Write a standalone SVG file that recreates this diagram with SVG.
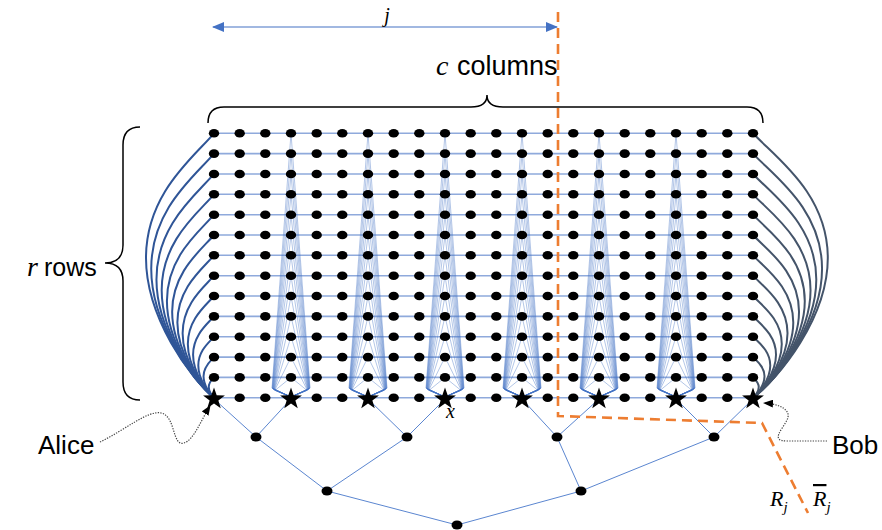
<svg xmlns="http://www.w3.org/2000/svg" xmlns:xlink="http://www.w3.org/1999/xlink" width="882" height="530" viewBox="0 0 882 530">
<style>
.lbl{font-family:"Liberation Sans",Arial,sans-serif;fill:#000}
.math{font-family:"Liberation Serif","DejaVu Serif",serif;font-style:italic;fill:#000}
.hl{stroke:#8FAADC;stroke-width:1.6;fill:none}
.fan{stroke:#4472C4;stroke-width:0.45;fill:none;stroke-opacity:0.9}
.tree{stroke:#5B86D0;stroke-width:1;fill:none}
.lcur{stroke:#2F5597;fill:none}
.rcur{stroke:#44546A;fill:none}
.brace{stroke:#000;stroke-width:1.5;fill:none}
.dotted{stroke:#444;stroke-width:1.2;stroke-dasharray:1.3 1.3;fill:none}
.cut{stroke:#ED7D31;stroke-width:2.6;stroke-dasharray:10 6;fill:none}
</style>
<defs>
<ellipse id="d" rx="5.2" ry="4.3" fill="#000"/>
<ellipse id="t" rx="5.5" ry="4.5" fill="#000"/>
<path id="st" d="M0 -11.5L2.7 -3.73L10.94 -3.55L4.37 1.43L6.76 9.3L0 4.6L-6.76 9.3L-4.37 1.43L-10.94 -3.55L-2.7 -3.73Z" fill="#000"/>
<path id="cv" d="M0 -264.4C-20 -240.7 -68 -204.7 -68 -139.7C-68 -80 -24 -20 0 0" stroke-width="2" vector-effect="non-scaling-stroke"/>
<path id="fan" d="M0 133.3L-19 388L0 397M0 133.3L19 388L0 397M0 153.6L-18.75 388.2L0 397M0 153.6L18.75 388.2L0 397M0 174L-18.5 388.4L0 397M0 174L18.5 388.4L0 397M0 194.3L-18.25 388.6L0 397M0 194.3L18.25 388.6L0 397M0 214.7L-18 388.8L0 397M0 214.7L18 388.8L0 397M0 235L-17.75 389L0 397M0 235L17.75 389L0 397M0 255.3L-17.5 389.2L0 397M0 255.3L17.5 389.2L0 397M0 275.7L-17.25 389.4L0 397M0 275.7L17.25 389.4L0 397M0 296L-17 389.6L0 397M0 296L17 389.6L0 397M0 316.4L-16.75 389.8L0 397M0 316.4L16.75 389.8L0 397M0 336.7L-16.5 390L0 397M0 336.7L16.5 390L0 397M0 357.1L-16.25 390.2L0 397M0 357.1L16.25 390.2L0 397M0 377.4L-16 390.4L0 397M0 377.4L16 390.4L0 397"/>
<marker id="ab" viewBox="0 0 12 10" refX="11" refY="5" markerWidth="12" markerHeight="10" markerUnits="userSpaceOnUse" orient="auto-start-reverse"><path d="M0 0L12 5L0 10z" fill="#4472C4"/></marker>
<marker id="ak" viewBox="0 0 10 8" refX="9" refY="4" markerWidth="10" markerHeight="8" markerUnits="userSpaceOnUse" orient="auto"><path d="M0 0L10 4L0 8z" fill="#000"/></marker>
</defs>

<!-- labels and braces -->
<g id="jarrow">
<line x1="213" y1="27" x2="557" y2="27" stroke="#4472C4" stroke-width="1.2" marker-start="url(#ab)" marker-end="url(#ab)"/>
<text class="math" x="387" y="22" font-size="20" text-anchor="middle">j</text>
</g>
<g id="colbrace">
<path class="brace" d="M208 123Q208 107 224 107L471 107Q487 107 487 95Q487 107 503 107L747 107Q763 107 763 123"/>
<text x="436" y="75"><tspan class="math" font-size="28">c</tspan><tspan class="lbl" x="457" font-size="27">columns</tspan></text>
</g>
<g id="rowbrace">
<path class="brace" d="M140 127Q123 127 123 145L123 245Q123 263 105 263Q123 263 123 281L123 382Q123 400 140 400"/>
<text x="27" y="276"><tspan class="math" font-size="28">r</tspan><tspan class="lbl" x="44" font-size="25">rows</tspan></text>
</g>

<!-- connectors -->
<g id="connectors">
<path class="hl" d="M214 133.3H753M214 153.6H753M214 174H753M214 194.3H753M214 214.7H753M214 235H753M214 255.3H753M214 275.7H753M214 296H753M214 316.4H753M214 336.7H753M214 357.1H753M214 377.4H753M214 397.7H753"/>
<g class="fan">
<use href="#fan" x="291"/>
<use href="#fan" x="368"/>
<use href="#fan" x="445"/>
<use href="#fan" x="522"/>
<use href="#fan" x="599"/>
<use href="#fan" x="676"/>
</g>
<g class="lcur">
<use href="#cv" transform="translate(214 397.7) scale(1)"/>
<use href="#cv" transform="translate(214 397.7) scale(0.9231)"/>
<use href="#cv" transform="translate(214 397.7) scale(0.8462)"/>
<use href="#cv" transform="translate(214 397.7) scale(0.7692)"/>
<use href="#cv" transform="translate(214 397.7) scale(0.6923)"/>
<use href="#cv" transform="translate(214 397.7) scale(0.6154)"/>
<use href="#cv" transform="translate(214 397.7) scale(0.5385)"/>
<use href="#cv" transform="translate(214 397.7) scale(0.4615)"/>
<use href="#cv" transform="translate(214 397.7) scale(0.3846)"/>
<use href="#cv" transform="translate(214 397.7) scale(0.3077)"/>
<use href="#cv" transform="translate(214 397.7) scale(0.2308)"/>
<use href="#cv" transform="translate(214 397.7) scale(0.1538)"/>
<use href="#cv" transform="translate(214 397.7) scale(0.0769)"/>
</g>
<g class="rcur">
<use href="#cv" transform="translate(753 397.7) scale(-1.1 1)"/>
<use href="#cv" transform="translate(753 397.7) scale(-1.0154 0.9231)"/>
<use href="#cv" transform="translate(753 397.7) scale(-0.9308 0.8462)"/>
<use href="#cv" transform="translate(753 397.7) scale(-0.8462 0.7692)"/>
<use href="#cv" transform="translate(753 397.7) scale(-0.7615 0.6923)"/>
<use href="#cv" transform="translate(753 397.7) scale(-0.6769 0.6154)"/>
<use href="#cv" transform="translate(753 397.7) scale(-0.5923 0.5385)"/>
<use href="#cv" transform="translate(753 397.7) scale(-0.5077 0.4615)"/>
<use href="#cv" transform="translate(753 397.7) scale(-0.4231 0.3846)"/>
<use href="#cv" transform="translate(753 397.7) scale(-0.3385 0.3077)"/>
<use href="#cv" transform="translate(753 397.7) scale(-0.2538 0.2308)"/>
<use href="#cv" transform="translate(753 397.7) scale(-0.1692 0.1538)"/>
<use href="#cv" transform="translate(753 397.7) scale(-0.0846 0.0769)"/>
</g>
<path class="tree" d="M214 399L256 437L291 399M368 399L407 437L445 399M522 399L557 437L599 399M676 399L714 437L753 399M256 437L327 491L407 437M557 437L581 491L714 437M327 491L457 525L581 491"/>
<path class="dotted" d="M100 442C125 430 148 410 161 413C176 416 172 447 184 443C194 440 201 420 210 406" marker-end="url(#ak)"/>
<path class="dotted" d="M827 441L787 441C770 441 782 430 787 420C792 410 780 404 764 403" marker-end="url(#ak)"/>
</g>

<!-- grid nodes -->
<g id="grid">
<g id="row0" transform="translate(0 133.3)"><use id="n0_0" href="#d" x="214"/><use id="n0_1" href="#d" x="239.7"/><use id="n0_2" href="#d" x="265.3"/><use id="n0_3" href="#d" x="291"/><use id="n0_4" href="#d" x="316.7"/><use id="n0_5" href="#d" x="342.3"/><use id="n0_6" href="#d" x="368"/><use id="n0_7" href="#d" x="393.7"/><use id="n0_8" href="#d" x="419.3"/><use id="n0_9" href="#d" x="445"/><use id="n0_10" href="#d" x="470.7"/><use id="n0_11" href="#d" x="496.3"/><use id="n0_12" href="#d" x="522"/><use id="n0_13" href="#d" x="547.7"/><use id="n0_14" href="#d" x="573.3"/><use id="n0_15" href="#d" x="599"/><use id="n0_16" href="#d" x="624.7"/><use id="n0_17" href="#d" x="650.3"/><use id="n0_18" href="#d" x="676"/><use id="n0_19" href="#d" x="701.7"/><use id="n0_20" href="#d" x="727.3"/><use id="n0_21" href="#d" x="753"/></g>
<g id="row1" transform="translate(0 153.6)"><use id="n1_0" href="#d" x="214"/><use id="n1_1" href="#d" x="239.7"/><use id="n1_2" href="#d" x="265.3"/><use id="n1_3" href="#d" x="291"/><use id="n1_4" href="#d" x="316.7"/><use id="n1_5" href="#d" x="342.3"/><use id="n1_6" href="#d" x="368"/><use id="n1_7" href="#d" x="393.7"/><use id="n1_8" href="#d" x="419.3"/><use id="n1_9" href="#d" x="445"/><use id="n1_10" href="#d" x="470.7"/><use id="n1_11" href="#d" x="496.3"/><use id="n1_12" href="#d" x="522"/><use id="n1_13" href="#d" x="547.7"/><use id="n1_14" href="#d" x="573.3"/><use id="n1_15" href="#d" x="599"/><use id="n1_16" href="#d" x="624.7"/><use id="n1_17" href="#d" x="650.3"/><use id="n1_18" href="#d" x="676"/><use id="n1_19" href="#d" x="701.7"/><use id="n1_20" href="#d" x="727.3"/><use id="n1_21" href="#d" x="753"/></g>
<g id="row2" transform="translate(0 174)"><use id="n2_0" href="#d" x="214"/><use id="n2_1" href="#d" x="239.7"/><use id="n2_2" href="#d" x="265.3"/><use id="n2_3" href="#d" x="291"/><use id="n2_4" href="#d" x="316.7"/><use id="n2_5" href="#d" x="342.3"/><use id="n2_6" href="#d" x="368"/><use id="n2_7" href="#d" x="393.7"/><use id="n2_8" href="#d" x="419.3"/><use id="n2_9" href="#d" x="445"/><use id="n2_10" href="#d" x="470.7"/><use id="n2_11" href="#d" x="496.3"/><use id="n2_12" href="#d" x="522"/><use id="n2_13" href="#d" x="547.7"/><use id="n2_14" href="#d" x="573.3"/><use id="n2_15" href="#d" x="599"/><use id="n2_16" href="#d" x="624.7"/><use id="n2_17" href="#d" x="650.3"/><use id="n2_18" href="#d" x="676"/><use id="n2_19" href="#d" x="701.7"/><use id="n2_20" href="#d" x="727.3"/><use id="n2_21" href="#d" x="753"/></g>
<g id="row3" transform="translate(0 194.3)"><use id="n3_0" href="#d" x="214"/><use id="n3_1" href="#d" x="239.7"/><use id="n3_2" href="#d" x="265.3"/><use id="n3_3" href="#d" x="291"/><use id="n3_4" href="#d" x="316.7"/><use id="n3_5" href="#d" x="342.3"/><use id="n3_6" href="#d" x="368"/><use id="n3_7" href="#d" x="393.7"/><use id="n3_8" href="#d" x="419.3"/><use id="n3_9" href="#d" x="445"/><use id="n3_10" href="#d" x="470.7"/><use id="n3_11" href="#d" x="496.3"/><use id="n3_12" href="#d" x="522"/><use id="n3_13" href="#d" x="547.7"/><use id="n3_14" href="#d" x="573.3"/><use id="n3_15" href="#d" x="599"/><use id="n3_16" href="#d" x="624.7"/><use id="n3_17" href="#d" x="650.3"/><use id="n3_18" href="#d" x="676"/><use id="n3_19" href="#d" x="701.7"/><use id="n3_20" href="#d" x="727.3"/><use id="n3_21" href="#d" x="753"/></g>
<g id="row4" transform="translate(0 214.7)"><use id="n4_0" href="#d" x="214"/><use id="n4_1" href="#d" x="239.7"/><use id="n4_2" href="#d" x="265.3"/><use id="n4_3" href="#d" x="291"/><use id="n4_4" href="#d" x="316.7"/><use id="n4_5" href="#d" x="342.3"/><use id="n4_6" href="#d" x="368"/><use id="n4_7" href="#d" x="393.7"/><use id="n4_8" href="#d" x="419.3"/><use id="n4_9" href="#d" x="445"/><use id="n4_10" href="#d" x="470.7"/><use id="n4_11" href="#d" x="496.3"/><use id="n4_12" href="#d" x="522"/><use id="n4_13" href="#d" x="547.7"/><use id="n4_14" href="#d" x="573.3"/><use id="n4_15" href="#d" x="599"/><use id="n4_16" href="#d" x="624.7"/><use id="n4_17" href="#d" x="650.3"/><use id="n4_18" href="#d" x="676"/><use id="n4_19" href="#d" x="701.7"/><use id="n4_20" href="#d" x="727.3"/><use id="n4_21" href="#d" x="753"/></g>
<g id="row5" transform="translate(0 235)"><use id="n5_0" href="#d" x="214"/><use id="n5_1" href="#d" x="239.7"/><use id="n5_2" href="#d" x="265.3"/><use id="n5_3" href="#d" x="291"/><use id="n5_4" href="#d" x="316.7"/><use id="n5_5" href="#d" x="342.3"/><use id="n5_6" href="#d" x="368"/><use id="n5_7" href="#d" x="393.7"/><use id="n5_8" href="#d" x="419.3"/><use id="n5_9" href="#d" x="445"/><use id="n5_10" href="#d" x="470.7"/><use id="n5_11" href="#d" x="496.3"/><use id="n5_12" href="#d" x="522"/><use id="n5_13" href="#d" x="547.7"/><use id="n5_14" href="#d" x="573.3"/><use id="n5_15" href="#d" x="599"/><use id="n5_16" href="#d" x="624.7"/><use id="n5_17" href="#d" x="650.3"/><use id="n5_18" href="#d" x="676"/><use id="n5_19" href="#d" x="701.7"/><use id="n5_20" href="#d" x="727.3"/><use id="n5_21" href="#d" x="753"/></g>
<g id="row6" transform="translate(0 255.3)"><use id="n6_0" href="#d" x="214"/><use id="n6_1" href="#d" x="239.7"/><use id="n6_2" href="#d" x="265.3"/><use id="n6_3" href="#d" x="291"/><use id="n6_4" href="#d" x="316.7"/><use id="n6_5" href="#d" x="342.3"/><use id="n6_6" href="#d" x="368"/><use id="n6_7" href="#d" x="393.7"/><use id="n6_8" href="#d" x="419.3"/><use id="n6_9" href="#d" x="445"/><use id="n6_10" href="#d" x="470.7"/><use id="n6_11" href="#d" x="496.3"/><use id="n6_12" href="#d" x="522"/><use id="n6_13" href="#d" x="547.7"/><use id="n6_14" href="#d" x="573.3"/><use id="n6_15" href="#d" x="599"/><use id="n6_16" href="#d" x="624.7"/><use id="n6_17" href="#d" x="650.3"/><use id="n6_18" href="#d" x="676"/><use id="n6_19" href="#d" x="701.7"/><use id="n6_20" href="#d" x="727.3"/><use id="n6_21" href="#d" x="753"/></g>
<g id="row7" transform="translate(0 275.7)"><use id="n7_0" href="#d" x="214"/><use id="n7_1" href="#d" x="239.7"/><use id="n7_2" href="#d" x="265.3"/><use id="n7_3" href="#d" x="291"/><use id="n7_4" href="#d" x="316.7"/><use id="n7_5" href="#d" x="342.3"/><use id="n7_6" href="#d" x="368"/><use id="n7_7" href="#d" x="393.7"/><use id="n7_8" href="#d" x="419.3"/><use id="n7_9" href="#d" x="445"/><use id="n7_10" href="#d" x="470.7"/><use id="n7_11" href="#d" x="496.3"/><use id="n7_12" href="#d" x="522"/><use id="n7_13" href="#d" x="547.7"/><use id="n7_14" href="#d" x="573.3"/><use id="n7_15" href="#d" x="599"/><use id="n7_16" href="#d" x="624.7"/><use id="n7_17" href="#d" x="650.3"/><use id="n7_18" href="#d" x="676"/><use id="n7_19" href="#d" x="701.7"/><use id="n7_20" href="#d" x="727.3"/><use id="n7_21" href="#d" x="753"/></g>
<g id="row8" transform="translate(0 296)"><use id="n8_0" href="#d" x="214"/><use id="n8_1" href="#d" x="239.7"/><use id="n8_2" href="#d" x="265.3"/><use id="n8_3" href="#d" x="291"/><use id="n8_4" href="#d" x="316.7"/><use id="n8_5" href="#d" x="342.3"/><use id="n8_6" href="#d" x="368"/><use id="n8_7" href="#d" x="393.7"/><use id="n8_8" href="#d" x="419.3"/><use id="n8_9" href="#d" x="445"/><use id="n8_10" href="#d" x="470.7"/><use id="n8_11" href="#d" x="496.3"/><use id="n8_12" href="#d" x="522"/><use id="n8_13" href="#d" x="547.7"/><use id="n8_14" href="#d" x="573.3"/><use id="n8_15" href="#d" x="599"/><use id="n8_16" href="#d" x="624.7"/><use id="n8_17" href="#d" x="650.3"/><use id="n8_18" href="#d" x="676"/><use id="n8_19" href="#d" x="701.7"/><use id="n8_20" href="#d" x="727.3"/><use id="n8_21" href="#d" x="753"/></g>
<g id="row9" transform="translate(0 316.4)"><use id="n9_0" href="#d" x="214"/><use id="n9_1" href="#d" x="239.7"/><use id="n9_2" href="#d" x="265.3"/><use id="n9_3" href="#d" x="291"/><use id="n9_4" href="#d" x="316.7"/><use id="n9_5" href="#d" x="342.3"/><use id="n9_6" href="#d" x="368"/><use id="n9_7" href="#d" x="393.7"/><use id="n9_8" href="#d" x="419.3"/><use id="n9_9" href="#d" x="445"/><use id="n9_10" href="#d" x="470.7"/><use id="n9_11" href="#d" x="496.3"/><use id="n9_12" href="#d" x="522"/><use id="n9_13" href="#d" x="547.7"/><use id="n9_14" href="#d" x="573.3"/><use id="n9_15" href="#d" x="599"/><use id="n9_16" href="#d" x="624.7"/><use id="n9_17" href="#d" x="650.3"/><use id="n9_18" href="#d" x="676"/><use id="n9_19" href="#d" x="701.7"/><use id="n9_20" href="#d" x="727.3"/><use id="n9_21" href="#d" x="753"/></g>
<g id="row10" transform="translate(0 336.7)"><use id="n10_0" href="#d" x="214"/><use id="n10_1" href="#d" x="239.7"/><use id="n10_2" href="#d" x="265.3"/><use id="n10_3" href="#d" x="291"/><use id="n10_4" href="#d" x="316.7"/><use id="n10_5" href="#d" x="342.3"/><use id="n10_6" href="#d" x="368"/><use id="n10_7" href="#d" x="393.7"/><use id="n10_8" href="#d" x="419.3"/><use id="n10_9" href="#d" x="445"/><use id="n10_10" href="#d" x="470.7"/><use id="n10_11" href="#d" x="496.3"/><use id="n10_12" href="#d" x="522"/><use id="n10_13" href="#d" x="547.7"/><use id="n10_14" href="#d" x="573.3"/><use id="n10_15" href="#d" x="599"/><use id="n10_16" href="#d" x="624.7"/><use id="n10_17" href="#d" x="650.3"/><use id="n10_18" href="#d" x="676"/><use id="n10_19" href="#d" x="701.7"/><use id="n10_20" href="#d" x="727.3"/><use id="n10_21" href="#d" x="753"/></g>
<g id="row11" transform="translate(0 357.1)"><use id="n11_0" href="#d" x="214"/><use id="n11_1" href="#d" x="239.7"/><use id="n11_2" href="#d" x="265.3"/><use id="n11_3" href="#d" x="291"/><use id="n11_4" href="#d" x="316.7"/><use id="n11_5" href="#d" x="342.3"/><use id="n11_6" href="#d" x="368"/><use id="n11_7" href="#d" x="393.7"/><use id="n11_8" href="#d" x="419.3"/><use id="n11_9" href="#d" x="445"/><use id="n11_10" href="#d" x="470.7"/><use id="n11_11" href="#d" x="496.3"/><use id="n11_12" href="#d" x="522"/><use id="n11_13" href="#d" x="547.7"/><use id="n11_14" href="#d" x="573.3"/><use id="n11_15" href="#d" x="599"/><use id="n11_16" href="#d" x="624.7"/><use id="n11_17" href="#d" x="650.3"/><use id="n11_18" href="#d" x="676"/><use id="n11_19" href="#d" x="701.7"/><use id="n11_20" href="#d" x="727.3"/><use id="n11_21" href="#d" x="753"/></g>
<g id="row12" transform="translate(0 377.4)"><use id="n12_0" href="#d" x="214"/><use id="n12_1" href="#d" x="239.7"/><use id="n12_2" href="#d" x="265.3"/><use id="n12_3" href="#d" x="291"/><use id="n12_4" href="#d" x="316.7"/><use id="n12_5" href="#d" x="342.3"/><use id="n12_6" href="#d" x="368"/><use id="n12_7" href="#d" x="393.7"/><use id="n12_8" href="#d" x="419.3"/><use id="n12_9" href="#d" x="445"/><use id="n12_10" href="#d" x="470.7"/><use id="n12_11" href="#d" x="496.3"/><use id="n12_12" href="#d" x="522"/><use id="n12_13" href="#d" x="547.7"/><use id="n12_14" href="#d" x="573.3"/><use id="n12_15" href="#d" x="599"/><use id="n12_16" href="#d" x="624.7"/><use id="n12_17" href="#d" x="650.3"/><use id="n12_18" href="#d" x="676"/><use id="n12_19" href="#d" x="701.7"/><use id="n12_20" href="#d" x="727.3"/><use id="n12_21" href="#d" x="753"/></g>
<g id="row13" transform="translate(0 397.7)"><use id="n13_1" href="#d" x="239.7"/><use id="n13_2" href="#d" x="265.3"/><use id="n13_4" href="#d" x="316.7"/><use id="n13_5" href="#d" x="342.3"/><use id="n13_7" href="#d" x="393.7"/><use id="n13_8" href="#d" x="419.3"/><use id="n13_10" href="#d" x="470.7"/><use id="n13_11" href="#d" x="496.3"/><use id="n13_13" href="#d" x="547.7"/><use id="n13_14" href="#d" x="573.3"/><use id="n13_16" href="#d" x="624.7"/><use id="n13_17" href="#d" x="650.3"/><use id="n13_19" href="#d" x="701.7"/><use id="n13_20" href="#d" x="727.3"/></g>
</g>

<!-- star nodes -->
<g id="star0"><use href="#st" x="214" y="399"/></g>
<g id="star3"><use href="#st" x="291" y="399"/></g>
<g id="star6"><use href="#st" x="368" y="399"/></g>
<g id="star9"><use href="#st" x="445" y="399"/><text class="math" x="446" y="418" font-size="20">x</text></g>
<g id="star12"><use href="#st" x="522" y="399"/></g>
<g id="star15"><use href="#st" x="599" y="399"/></g>
<g id="star18"><use href="#st" x="676" y="399"/></g>
<g id="star21"><use href="#st" x="753" y="399"/></g>

<!-- tree nodes -->
<g id="t1a"><use href="#t" x="256" y="437"/></g>
<g id="t1b"><use href="#t" x="407" y="437"/></g>
<g id="t1c"><use href="#t" x="557" y="437"/></g>
<g id="t1d"><use href="#t" x="714" y="437"/></g>
<g id="t2a"><use href="#t" x="327" y="491"/></g>
<g id="t2b"><use href="#t" x="581" y="491"/></g>
<g id="troot"><use href="#t" x="457" y="525"/></g>

<!-- people -->
<g id="alice"><text class="lbl" x="38" y="454" font-size="26">Alice</text></g>
<g id="bob"><text class="lbl" x="832" y="454" font-size="26">Bob</text></g>

<!-- cut -->
<g id="cut">
<path class="cut" d="M558 12L558 416L762 423L808 513"/>
<text class="math" x="770" y="506" font-size="22">R<tspan font-size="15" dy="6">j</tspan></text>
<text class="math" x="813" y="506" font-size="22"><tspan style="text-decoration:overline">R</tspan><tspan font-size="15" dy="6">j</tspan></text>
</g>
</svg>
